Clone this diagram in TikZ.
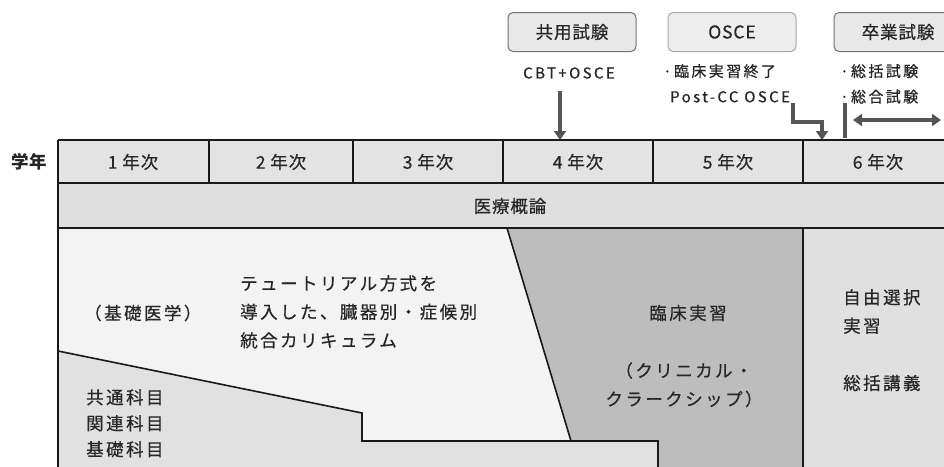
\documentclass[tikz,border=0pt]{standalone}
\usepackage{fontspec}
\setmainfont{Noto Sans CJK JP}
\newfontfamily\jpsp[LetterSpace=14,FakeBold=0.5]{Noto Sans CJK JP}
\newfontfamily\jpyr[LetterSpace=5,FakeBold=0.5]{Noto Sans CJK JP}
\newfontfamily\jplat[LetterSpace=16,FakeBold=0.5]{Noto Sans CJK JP}
\usetikzlibrary{arrows.meta}
\definecolor{hdr}{HTML}{E3E3E3}
\definecolor{row2}{HTML}{DFDFDF}
\definecolor{wht}{HTML}{F3F3F3}
\definecolor{lgt}{HTML}{E1E1E1}
\definecolor{drk}{HTML}{BDBDBD}
\definecolor{rgt}{HTML}{E0E0E0}
\definecolor{arr}{HTML}{555555}
\tikzset{
  grid/.style={draw=black!90, line width=1.6pt},
  yearlbl/.style={font=\jpyr\fontsize{17.5}{20}\selectfont, anchor=center, text=black!85},
  body/.style={font=\jpsp\fontsize{17.5}{28.5}\selectfont, align=left, inner sep=0pt, text=black!85},
  topbox/.style={draw=black!55, fill=black!9, rounded corners=5pt, line width=1pt, minimum width=128pt, minimum height=39pt, font=\jpyr\fontsize{17.5}{20}\selectfont, text=black!85},
  toptxt/.style={font=\jplat\fontsize{15}{25.5}\selectfont, align=left, inner sep=0pt, text=black!85},
  bigarrow/.style={draw=arr, line width=3.5pt, -{Triangle[width=12pt,length=9pt]}},
}
\begin{document}
\begin{tikzpicture}[x=1pt,y=-1pt]
\useasboundingbox (0,0) rectangle (944,466);
\clip (0,0) rectangle (944,466);
\fill[white] (0,0) rectangle (944,466);
% header rows
\fill[hdr] (58,140) rectangle (970,183);
\fill[row2] (58,183) rectangle (970,228);
% main regions
\fill[wht] (58,228) -- (507,228) -- (571,441) -- (362,441) -- (362,413) -- (58,351) -- cycle;
\fill[lgt] (58,351) -- (362,413) -- (362,441) -- (658,441) -- (658,480) -- (58,480) -- cycle;
\fill[drk] (507,228) -- (803,228) -- (803,480) -- (658,480) -- (658,441) -- (571,441) -- cycle;
\fill[rgt] (803,228) rectangle (970,480);
% grid lines
\draw[grid] (58,140) -- (970,140);
\draw[grid] (58,183) -- (970,183);
\draw[grid] (58,228) -- (970,228);
\draw[grid] (58,140) -- (58,480);
\foreach \x in {209,353,503,653} \draw[grid] (\x,140) -- (\x,183);
\draw[grid] (803,140) -- (803,183);
\draw[grid] (803,228) -- (803,480);
\draw[grid] (58,351) -- (362,413) -- (362,441) -- (658,441) -- (658,480);
\draw[grid] (507,228) -- (571,441);
% year labels
\node[font=\fontsize{17.5}{20}\selectfont\bfseries, text=black!85] (gakunen) at (29,162) {学年};
\node[yearlbl] (y1) at (133,162) {1 年次};
\node[yearlbl] (y2) at (281,162) {2 年次};
\node[yearlbl] (y3) at (428,162) {3 年次};
\node[yearlbl] (y4) at (578,162) {4 年次};
\node[yearlbl] (y5) at (728,162) {5 年次};
\node[yearlbl] (y6) at (878,162) {6 年次};
\node[yearlbl] (iryo) at (510,206) {医療概論};
% body texts
\node[body, anchor=west] (kiso) at (84,313) {（基礎医学）};
\node[body, anchor=north west] (tut) at (240,275) {テュートリアル方式を\\導入した、臓器別・症候別\\統合カリキュラム};
\node[body, anchor=north west, font=\jpsp\fontsize{17.5}{26}\selectfont] (kyotsu) at (86,389) {共通科目\\関連科目\\基礎科目};
\node[body, anchor=center] (rinsho) at (688,313) {臨床実習};
\node[body, anchor=north, align=center] (cc) at (684,362) {（クリニカル・\\クラークシップ）};
\node[body, anchor=north west] (jiyu) at (843,289) {自由選択\\実習};
\node[body, anchor=west] (sokatsu) at (843,383) {総括講義};
% top boxes
\node[topbox] (kyoyo) at (572,32) {共用試験};
\node[topbox, draw=black!35, fill=black!7] (osce) at (732,32) {OSCE};
\node[topbox] (sotsu) at (898,32) {卒業試験};
% top texts
\node[toptxt, anchor=center] (cbt) at (569,73) {CBT+OSCE};
\node[toptxt, anchor=north west] (post) at (663,64) {·臨床実習終了\\\hspace*{7pt}Post-CC OSCE};
\node[toptxt, anchor=north west] (sokatsu2) at (840,64) {·総括試験\\·総合試験};
% arrows
\coordinate (a1s) at (560,91);
\coordinate (a1e) at (560,140);
\draw[bigarrow] (a1s) -- (a1e);
\coordinate (a2s) at (793,103);
\coordinate (a2e) at (822,140);
\draw[bigarrow] (a2s) |- (809,122) -| (a2e);
\coordinate (b1) at (845,103);
\coordinate (b2) at (845,138);
\draw[draw=arr, line width=3.5pt] (b1) -- (b2);
\coordinate (d1) at (853,120);
\coordinate (d2) at (941,120);
\draw[draw=arr, line width=3.5pt, {Triangle[width=12pt,length=9pt]}-{Triangle[width=12pt,length=9pt]}] (d1) -- (d2);
\end{tikzpicture}
\end{document}
